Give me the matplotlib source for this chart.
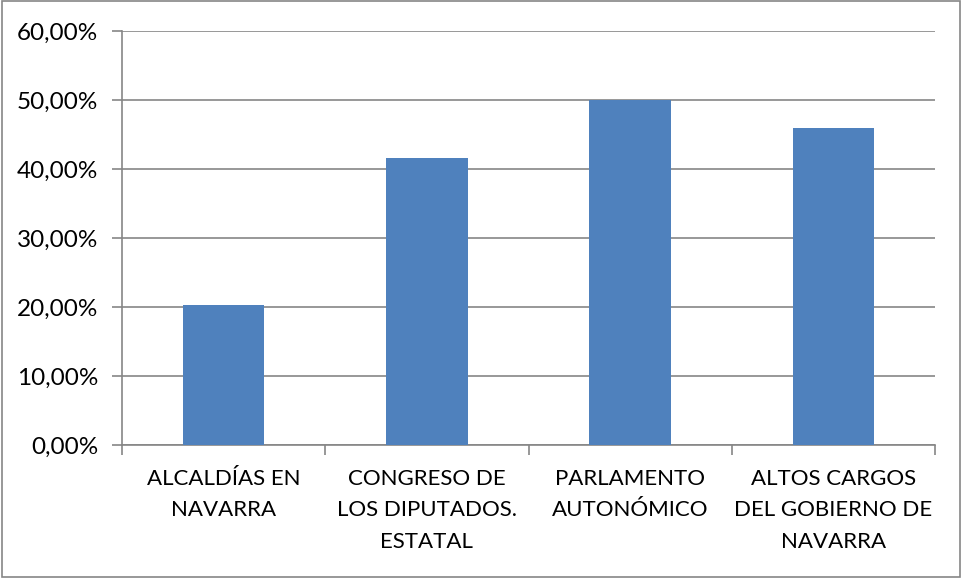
import numpy as np
import matplotlib.pyplot as plt
from matplotlib.patches import Rectangle

categories = ["ALCALDÍAS EN\nNAVARRA", "CONGRESO DE\nLOS DIPUTADOS.\nESTATAL",
              "PARLAMENTO\nAUTONÓMICO", "ALTOS CARGOS\nDEL GOBIERNO DE\nNAVARRA"]
values = [20.3, 41.6, 50.0, 46.0]
yticks = [0, 10, 20, 30, 40, 50, 60]
ytick_labels = ["0,00%", "10,00%", "20,00%", "30,00%", "40,00%", "50,00%", "60,00%"]

plt.rcParams['font.family'] = ['Lato', 'DejaVu Sans']

W, H = 962, 578
fig = plt.figure(figsize=(W / 100, H / 100), dpi=100)
ax = fig.add_axes([122 / W, (H - 445) / H, (935 - 122) / W, (445 - 31) / H])

grid_col = "#868686"
x = np.arange(len(categories))
ax.bar(x, values, width=0.4, color="#4F81BD", zorder=3)

ax.set_xlim(-0.5, len(categories) - 0.5)
ax.set_ylim(0, 60)
ax.set_yticks(yticks)
ax.set_yticklabels(ytick_labels, fontsize=17.5)
ax.yaxis.grid(True, color=grid_col, linewidth=1.2, zorder=0)

# category labels between tick marks
ax.set_xticks(np.arange(len(categories) + 1) - 0.5)
ax.set_xticklabels([])
ax.set_xticks(x, minor=True)
ax.set_xticklabels(categories, minor=True, fontsize=16, linespacing=1.72)
ax.tick_params(axis='x', which='minor', length=0, pad=17)
ax.tick_params(axis='x', which='major', length=7, color=grid_col, width=1.2)
ax.tick_params(axis='y', length=7, color=grid_col, width=1.2, pad=10)

for s in ['top', 'right']:
    ax.spines[s].set_visible(False)
for s in ['left', 'bottom']:
    ax.spines[s].set_color(grid_col)
    ax.spines[s].set_linewidth(1.2)

# outer chart border
fig.patches.append(Rectangle((0.002, 0.002), 0.996, 0.996, transform=fig.transFigure,
                             fill=False, edgecolor=grid_col, linewidth=1.2))

fig.savefig("out.png", dpi=100)
